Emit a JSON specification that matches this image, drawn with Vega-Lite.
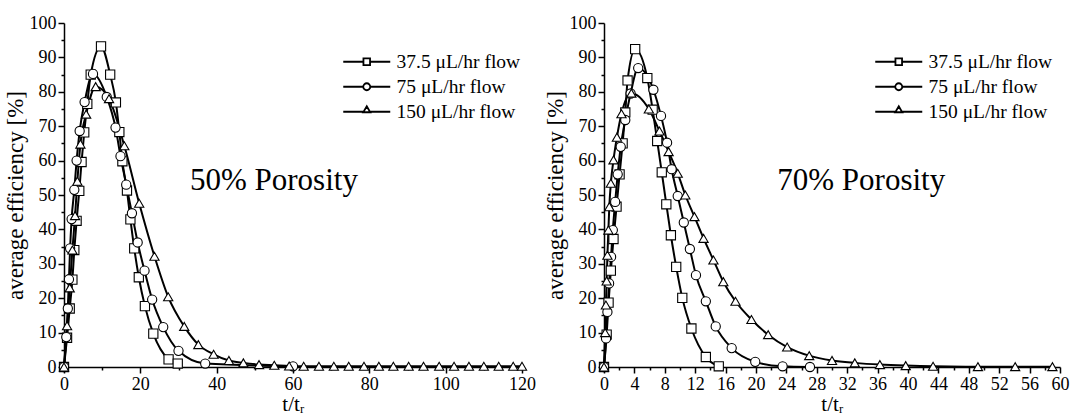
{
  "$schema": "https://vega.github.io/schema/vega-lite/v6.json",
  "background": "white",
  "padding": {"left": 4, "top": 14, "right": 5, "bottom": 0},
  "spacing": 82,
  "bounds": "flush",
  "resolve": {"legend": {"shape": "independent"}, "scale": {"shape": "independent", "x": "independent", "y": "independent"}},
  "config": {
    "view": {"stroke": null},
    "font": "Liberation Serif",
    "axis": {"domainColor": "black", "domainWidth": 1.5, "tickColor": "black", "tickWidth": 1.5, "labelColor": "black", "labelFont": "Liberation Serif", "labelFontSize": 18, "titleFont": "Liberation Serif", "titleFontSize": 23, "titleFontWeight": "normal", "titleColor": "black", "grid": false, "labelFlush": false, "labelOverlap": false, "labelPadding": 2},
    "legend": {"labelFont": "Liberation Serif", "labelFontSize": 19.5, "labelColor": "black", "symbolSize": 100, "symbolStrokeColor": "black", "symbolStrokeWidth": 1.8, "rowPadding": 4, "labelOffset": 20}
  },
  "hconcat": [
    {
      "width": 458,
      "height": 344,
      "resolve": {"axis": {"x": "independent", "y": "independent"}, "scale": {"shape": "independent"}, "legend": {"shape": "independent"}},
      "data": {"values": [
        {"s": "37.5 μL/hr flow", "x": 0, "y": 0}, {"s": "37.5 μL/hr flow", "x": 0.8, "y": 8.5}, {"s": "37.5 μL/hr flow", "x": 1.5, "y": 17}, {"s": "37.5 μL/hr flow", "x": 2.2, "y": 25.4}, {"s": "37.5 μL/hr flow", "x": 2.7, "y": 34}, {"s": "37.5 μL/hr flow", "x": 3.3, "y": 42.5}, {"s": "37.5 μL/hr flow", "x": 4.0, "y": 51.2}, {"s": "37.5 μL/hr flow", "x": 4.6, "y": 59.6}, {"s": "37.5 μL/hr flow", "x": 5.3, "y": 68.2}, {"s": "37.5 μL/hr flow", "x": 6.1, "y": 76.5}, {"s": "37.5 μL/hr flow", "x": 7.0, "y": 85}, {"s": "37.5 μL/hr flow", "x": 9.7, "y": 93.2}, {"s": "37.5 μL/hr flow", "x": 12.1, "y": 85}, {"s": "37.5 μL/hr flow", "x": 13.6, "y": 76.9}, {"s": "37.5 μL/hr flow", "x": 14.5, "y": 68.3}, {"s": "37.5 μL/hr flow", "x": 15.3, "y": 59.8}, {"s": "37.5 μL/hr flow", "x": 16.5, "y": 51.3}, {"s": "37.5 μL/hr flow", "x": 17.4, "y": 42.9}, {"s": "37.5 μL/hr flow", "x": 18.4, "y": 34.5}, {"s": "37.5 μL/hr flow", "x": 19.6, "y": 26.1}, {"s": "37.5 μL/hr flow", "x": 21.2, "y": 17.7}, {"s": "37.5 μL/hr flow", "x": 23.4, "y": 9.7}, {"s": "37.5 μL/hr flow", "x": 27.4, "y": 2.2}, {"s": "37.5 μL/hr flow", "x": 29.8, "y": 1.0},
        {"s": "75 μL/hr flow", "x": 0, "y": 0}, {"s": "75 μL/hr flow", "x": 0.6, "y": 8.7}, {"s": "75 μL/hr flow", "x": 1.0, "y": 17}, {"s": "75 μL/hr flow", "x": 1.3, "y": 25.5}, {"s": "75 μL/hr flow", "x": 1.6, "y": 34.5}, {"s": "75 μL/hr flow", "x": 2.0, "y": 43}, {"s": "75 μL/hr flow", "x": 2.7, "y": 51.5}, {"s": "75 μL/hr flow", "x": 3.3, "y": 60}, {"s": "75 μL/hr flow", "x": 4.1, "y": 68.6}, {"s": "75 μL/hr flow", "x": 5.4, "y": 77}, {"s": "75 μL/hr flow", "x": 7.6, "y": 85.2}, {"s": "75 μL/hr flow", "x": 11.2, "y": 78.5}, {"s": "75 μL/hr flow", "x": 13.5, "y": 69.6}, {"s": "75 μL/hr flow", "x": 14.8, "y": 61.3}, {"s": "75 μL/hr flow", "x": 16.3, "y": 53}, {"s": "75 μL/hr flow", "x": 17.8, "y": 44.7}, {"s": "75 μL/hr flow", "x": 19.3, "y": 36.2}, {"s": "75 μL/hr flow", "x": 21.1, "y": 28}, {"s": "75 μL/hr flow", "x": 23.1, "y": 19.6}, {"s": "75 μL/hr flow", "x": 26.0, "y": 11.6}, {"s": "75 μL/hr flow", "x": 30.0, "y": 4.7}, {"s": "75 μL/hr flow", "x": 37.0, "y": 1.0}, {"s": "75 μL/hr flow", "x": 60.0, "y": 0.2},
        {"s": "150 μL/hr flow", "x": 0, "y": 0}, {"s": "150 μL/hr flow", "x": 0.8, "y": 12}, {"s": "150 μL/hr flow", "x": 1.5, "y": 23}, {"s": "150 μL/hr flow", "x": 2.2, "y": 34}, {"s": "150 μL/hr flow", "x": 2.9, "y": 44}, {"s": "150 μL/hr flow", "x": 3.5, "y": 54}, {"s": "150 μL/hr flow", "x": 4.3, "y": 64.8}, {"s": "150 μL/hr flow", "x": 5.8, "y": 73.5}, {"s": "150 μL/hr flow", "x": 8.3, "y": 81.5}, {"s": "150 μL/hr flow", "x": 11.8, "y": 78}, {"s": "150 μL/hr flow", "x": 15.8, "y": 64.3}, {"s": "150 μL/hr flow", "x": 19.7, "y": 47.6}, {"s": "150 μL/hr flow", "x": 23.7, "y": 32.2}, {"s": "150 μL/hr flow", "x": 27.3, "y": 20.4}, {"s": "150 μL/hr flow", "x": 31.5, "y": 11.8}, {"s": "150 μL/hr flow", "x": 35.2, "y": 6.5}, {"s": "150 μL/hr flow", "x": 39.2, "y": 3.7}, {"s": "150 μL/hr flow", "x": 43.2, "y": 1.9}, {"s": "150 μL/hr flow", "x": 47.0, "y": 1.2}, {"s": "150 μL/hr flow", "x": 51.1, "y": 0.7}, {"s": "150 μL/hr flow", "x": 55.1, "y": 0.5}, {"s": "150 μL/hr flow", "x": 59.0, "y": 0.3}, {"s": "150 μL/hr flow", "x": 62.8, "y": 0.2}, {"s": "150 μL/hr flow", "x": 66.8, "y": 0.2}, {"s": "150 μL/hr flow", "x": 70.7, "y": 0.2}, {"s": "150 μL/hr flow", "x": 74.6, "y": 0.2}, {"s": "150 μL/hr flow", "x": 78.6, "y": 0.2}, {"s": "150 μL/hr flow", "x": 82.5, "y": 0.2}, {"s": "150 μL/hr flow", "x": 86.3, "y": 0.2}, {"s": "150 μL/hr flow", "x": 90.3, "y": 0.2}, {"s": "150 μL/hr flow", "x": 94.2, "y": 0.2}, {"s": "150 μL/hr flow", "x": 98.3, "y": 0.2}, {"s": "150 μL/hr flow", "x": 102.2, "y": 0.2}, {"s": "150 μL/hr flow", "x": 106.1, "y": 0.2}, {"s": "150 μL/hr flow", "x": 110.0, "y": 0.2}, {"s": "150 μL/hr flow", "x": 113.9, "y": 0.2}, {"s": "150 μL/hr flow", "x": 117.7, "y": 0.2}, {"s": "150 μL/hr flow", "x": 120.0, "y": 0.2}
      ]},
      "layer": [
        {
          "mark": {"type": "line", "interpolate": "monotone", "color": "black", "strokeWidth": 2},
          "encoding": {
            "x": {"field": "x", "type": "quantitative", "scale": {"domain": [0, 120], "nice": false}, "axis": {"orient": "bottom", "title": "t/tᵣ", "titleFontSize": 21, "values": [0,20,40,60,80,100,120], "tickSize": 6, "titlePadding": 0}},
            "y": {"field": "y", "type": "quantitative", "scale": {"domain": [0, 100], "nice": false}, "axis": {"orient": "left", "title": "average efficiency [%]", "values": [0,10,20,30,40,50,60,70,80,90,100], "tickSize": 6, "titlePadding": 2}},
            "detail": {"field": "s", "type": "nominal"}
          }
        },
        {
          "mark": {"type": "point", "filled": true, "fill": "white", "stroke": "black", "strokeWidth": 1.1, "size": 85, "opacity": 1},
          "encoding": {
            "x": {"field": "x", "type": "quantitative", "axis": {"orient": "bottom", "values": [10,30,50,70,90,110], "labels": false, "domain": false, "title": null, "tickSize": 3}},
            "y": {"field": "y", "type": "quantitative", "axis": {"orient": "left", "values": [5,15,25,35,45,55,65,75,85,95], "labels": false, "domain": false, "title": null, "tickSize": 3}},
            "shape": {"field": "s", "type": "nominal", "scale": {"domain": ["37.5 μL/hr flow", "75 μL/hr flow", "150 μL/hr flow"], "range": ["square", "circle", "triangle-up"]}, "legend": null}
          }
        },
        {
          "data": {"values": []},
          "mark": {"type": "point", "filled": false, "stroke": "black", "strokeWidth": 1.8, "opacity": 1},
          "encoding": {
            "x": {"field": "x", "type": "quantitative", "axis": null},
            "y": {"field": "y", "type": "quantitative", "axis": null},
            "shape": {"field": "s", "type": "nominal", "scale": {"domain": ["37.5 μL/hr flow", "75 μL/hr flow", "150 μL/hr flow"], "range": ["M-4.7,0H-0.66M-0.66,-0.66H0.66V0.66H-0.66ZM0.66,0H4.7", "M-4.7,0H-0.7M-0.7,0A0.7,0.7 0 1,1 0.7,0A0.7,0.7 0 1,1 -0.7,0ZM0.7,0H4.7", "M-4.7,0H-0.64M0,-1.1L0.7,0.1H-0.7ZM0.64,0H4.7"]},
              "legend": {"title": null, "orient": "none", "legendX": 293, "legendY": 29, "symbolStrokeColor": "black", "symbolOpacity": 1}}
          }
        },
        {
          "data": {"values": [{"label": "50% Porosity"}]},
          "mark": {"type": "text", "align": "left", "baseline": "middle", "fontSize": 31, "font": "Liberation Serif", "color": "black"},
          "encoding": {"x": {"datum": 33, "axis": null}, "y": {"datum": 54, "axis": null}, "text": {"field": "label"}}
        }
      ]
    },
    {
      "width": 456,
      "height": 344,
      "resolve": {"axis": {"x": "independent", "y": "independent"}, "scale": {"shape": "independent"}, "legend": {"shape": "independent"}},
      "data": {"values": [
        {"s": "37.5 μL/hr flow", "x": 0, "y": 0}, {"s": "37.5 μL/hr flow", "x": 0.35, "y": 9.4}, {"s": "37.5 μL/hr flow", "x": 0.6, "y": 18.7}, {"s": "37.5 μL/hr flow", "x": 0.9, "y": 28}, {"s": "37.5 μL/hr flow", "x": 1.25, "y": 37.2}, {"s": "37.5 μL/hr flow", "x": 1.65, "y": 46.6}, {"s": "37.5 μL/hr flow", "x": 2.05, "y": 56}, {"s": "37.5 μL/hr flow", "x": 2.45, "y": 65}, {"s": "37.5 μL/hr flow", "x": 2.8, "y": 74}, {"s": "37.5 μL/hr flow", "x": 3.1, "y": 83.3}, {"s": "37.5 μL/hr flow", "x": 4.1, "y": 92.4}, {"s": "37.5 μL/hr flow", "x": 5.7, "y": 84}, {"s": "37.5 μL/hr flow", "x": 6.4, "y": 74.8}, {"s": "37.5 μL/hr flow", "x": 7.0, "y": 65.7}, {"s": "37.5 μL/hr flow", "x": 7.6, "y": 56.6}, {"s": "37.5 μL/hr flow", "x": 8.2, "y": 47.3}, {"s": "37.5 μL/hr flow", "x": 8.8, "y": 38.3}, {"s": "37.5 μL/hr flow", "x": 9.5, "y": 29.1}, {"s": "37.5 μL/hr flow", "x": 10.3, "y": 20.1}, {"s": "37.5 μL/hr flow", "x": 11.5, "y": 11.2}, {"s": "37.5 μL/hr flow", "x": 13.4, "y": 2.9}, {"s": "37.5 μL/hr flow", "x": 15.1, "y": 0.2},
        {"s": "75 μL/hr flow", "x": 0, "y": 0}, {"s": "75 μL/hr flow", "x": 0.27, "y": 8.3}, {"s": "75 μL/hr flow", "x": 0.45, "y": 16}, {"s": "75 μL/hr flow", "x": 0.67, "y": 24.3}, {"s": "75 μL/hr flow", "x": 0.93, "y": 32}, {"s": "75 μL/hr flow", "x": 1.16, "y": 39.8}, {"s": "75 μL/hr flow", "x": 1.47, "y": 48}, {"s": "75 μL/hr flow", "x": 1.8, "y": 56}, {"s": "75 μL/hr flow", "x": 2.2, "y": 64}, {"s": "75 μL/hr flow", "x": 2.8, "y": 71.8}, {"s": "75 μL/hr flow", "x": 3.5, "y": 79.5}, {"s": "75 μL/hr flow", "x": 4.5, "y": 86.9}, {"s": "75 μL/hr flow", "x": 6.5, "y": 80.6}, {"s": "75 μL/hr flow", "x": 7.5, "y": 73}, {"s": "75 μL/hr flow", "x": 8.3, "y": 65.2}, {"s": "75 μL/hr flow", "x": 8.9, "y": 57.5}, {"s": "75 μL/hr flow", "x": 9.7, "y": 49.7}, {"s": "75 μL/hr flow", "x": 10.5, "y": 42}, {"s": "75 μL/hr flow", "x": 11.3, "y": 34.3}, {"s": "75 μL/hr flow", "x": 12.1, "y": 26.7}, {"s": "75 μL/hr flow", "x": 13.4, "y": 19.1}, {"s": "75 μL/hr flow", "x": 14.7, "y": 11.8}, {"s": "75 μL/hr flow", "x": 16.8, "y": 5.5}, {"s": "75 μL/hr flow", "x": 19.9, "y": 1.5}, {"s": "75 μL/hr flow", "x": 23.5, "y": 0.2}, {"s": "75 μL/hr flow", "x": 27.1, "y": 0},
        {"s": "150 μL/hr flow", "x": 0, "y": 0}, {"s": "150 μL/hr flow", "x": 0.15, "y": 10}, {"s": "150 μL/hr flow", "x": 0.25, "y": 18}, {"s": "150 μL/hr flow", "x": 0.35, "y": 25}, {"s": "150 μL/hr flow", "x": 0.45, "y": 32.5}, {"s": "150 μL/hr flow", "x": 0.58, "y": 39.8}, {"s": "150 μL/hr flow", "x": 0.7, "y": 46.6}, {"s": "150 μL/hr flow", "x": 0.9, "y": 53.4}, {"s": "150 μL/hr flow", "x": 1.25, "y": 60.2}, {"s": "150 μL/hr flow", "x": 1.7, "y": 66.8}, {"s": "150 μL/hr flow", "x": 2.3, "y": 73.6}, {"s": "150 μL/hr flow", "x": 3.6, "y": 79.6}, {"s": "150 μL/hr flow", "x": 5.9, "y": 75}, {"s": "150 μL/hr flow", "x": 7.3, "y": 68.6}, {"s": "150 μL/hr flow", "x": 8.5, "y": 62.6}, {"s": "150 μL/hr flow", "x": 9.7, "y": 56.3}, {"s": "150 μL/hr flow", "x": 10.7, "y": 50}, {"s": "150 μL/hr flow", "x": 11.9, "y": 43.7}, {"s": "150 μL/hr flow", "x": 13.1, "y": 37.4}, {"s": "150 μL/hr flow", "x": 14.4, "y": 31.1}, {"s": "150 μL/hr flow", "x": 15.7, "y": 24.8}, {"s": "150 μL/hr flow", "x": 17.3, "y": 19.1}, {"s": "150 μL/hr flow", "x": 19.4, "y": 13.8}, {"s": "150 μL/hr flow", "x": 21.6, "y": 9.4}, {"s": "150 μL/hr flow", "x": 24.1, "y": 5.8}, {"s": "150 μL/hr flow", "x": 27.0, "y": 3.3}, {"s": "150 μL/hr flow", "x": 30.0, "y": 1.9}, {"s": "150 μL/hr flow", "x": 33.0, "y": 1.2}, {"s": "150 μL/hr flow", "x": 36.3, "y": 0.7}, {"s": "150 μL/hr flow", "x": 39.7, "y": 0.4}, {"s": "150 μL/hr flow", "x": 43.3, "y": 0.2}, {"s": "150 μL/hr flow", "x": 49.2, "y": 0.1}, {"s": "150 μL/hr flow", "x": 54.1, "y": 0.1}, {"s": "150 μL/hr flow", "x": 59.0, "y": 0.1}
      ]},
      "layer": [
        {
          "mark": {"type": "line", "interpolate": "monotone", "color": "black", "strokeWidth": 2},
          "encoding": {
            "x": {"field": "x", "type": "quantitative", "scale": {"domain": [0, 60], "nice": false}, "axis": {"orient": "bottom", "title": "t/tᵣ", "titleFontSize": 21, "values": [0,4,8,12,16,20,24,28,32,36,40,44,48,52,56,60], "tickSize": 6, "titlePadding": 0}},
            "y": {"field": "y", "type": "quantitative", "scale": {"domain": [0, 100], "nice": false}, "axis": {"orient": "left", "title": "average efficiency [%]", "values": [0,10,20,30,40,50,60,70,80,90,100], "tickSize": 6, "titlePadding": 2}},
            "detail": {"field": "s", "type": "nominal"}
          }
        },
        {
          "mark": {"type": "point", "filled": true, "fill": "white", "stroke": "black", "strokeWidth": 1.1, "size": 85, "opacity": 1},
          "encoding": {
            "x": {"field": "x", "type": "quantitative", "axis": {"orient": "bottom", "values": [2,6,10,14,18,22,26,30,34,38,42,46,50,54,58], "labels": false, "domain": false, "title": null, "tickSize": 3}},
            "y": {"field": "y", "type": "quantitative", "axis": {"orient": "left", "values": [5,15,25,35,45,55,65,75,85,95], "labels": false, "domain": false, "title": null, "tickSize": 3}},
            "shape": {"field": "s", "type": "nominal", "scale": {"domain": ["37.5 μL/hr flow", "75 μL/hr flow", "150 μL/hr flow"], "range": ["square", "circle", "triangle-up"]}, "legend": null}
          }
        },
        {
          "data": {"values": []},
          "mark": {"type": "point", "filled": false, "stroke": "black", "strokeWidth": 1.8, "opacity": 1},
          "encoding": {
            "x": {"field": "x", "type": "quantitative", "axis": null},
            "y": {"field": "y", "type": "quantitative", "axis": null},
            "shape": {"field": "s", "type": "nominal", "scale": {"domain": ["37.5 μL/hr flow", "75 μL/hr flow", "150 μL/hr flow"], "range": ["M-4.7,0H-0.66M-0.66,-0.66H0.66V0.66H-0.66ZM0.66,0H4.7", "M-4.7,0H-0.7M-0.7,0A0.7,0.7 0 1,1 0.7,0A0.7,0.7 0 1,1 -0.7,0ZM0.7,0H4.7", "M-4.7,0H-0.64M0,-1.1L0.7,0.1H-0.7ZM0.64,0H4.7"]},
              "legend": {"title": null, "orient": "none", "legendX": 285, "legendY": 29, "symbolStrokeColor": "black", "symbolOpacity": 1}}
          }
        },
        {
          "data": {"values": [{"label": "70% Porosity"}]},
          "mark": {"type": "text", "align": "left", "baseline": "middle", "fontSize": 31, "font": "Liberation Serif", "color": "black"},
          "encoding": {"x": {"datum": 22.8, "axis": null}, "y": {"datum": 54, "axis": null}, "text": {"field": "label"}}
        }
      ]
    }
  ]
}
